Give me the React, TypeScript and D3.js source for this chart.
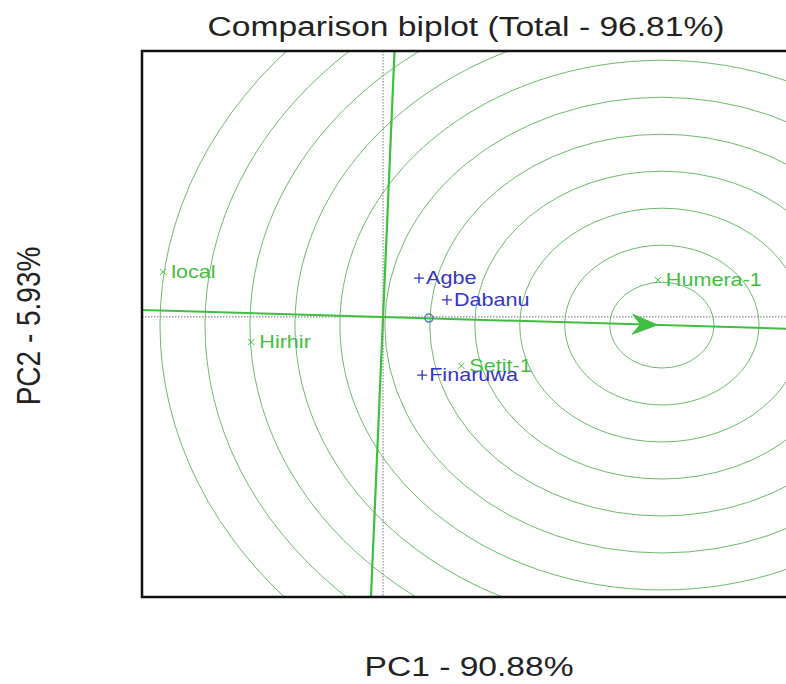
import React from "react";
import * as d3 from "d3";

// genotypes (green x) and environments (blue +), PC1/PC2 scores
const genoNames = ["local", "Hirhir", "Humera-1", "Setit-1"];
const genoPC1 = [-4.89, -2.93, 6.11, 1.74];
const genoPC2 = [1.22, -0.68, 1.0, -1.32];

const envNames = ["Agbe", "Dabanu", "Finaruwa"];
const envPC1 = [0.8, 1.42, 0.87];
const envPC2 = [1.05, 0.46, -1.57];

const avgEnv = [1.02, -0.03];
const idealPoint = [6.2, -0.22];
const arrowTip = [6.1, -0.215];
const ringRadii = [1.16, 2.16, 3.16, 4.16, 5.16, 6.16, 7.16, 8.16, 9.16, 10.16, 11.16];

const title = "Comparison biplot (Total - 96.81%)";
const xLabel = "PC1 - 90.88%";
const yLabel = "PC2 - 5.93%";

const W = 786;
const H = 684;
const plot = { left: 142, right: 786, top: 51, bottom: 597 };
const SX = 1.2; // horizontal stretch of the original picture
const FONT = "'Liberation Sans', Arial, sans-serif";

const App = () => {
  const x = d3.scaleLinear().domain([-5.36, 8.96]).range([plot.left, plot.right]);
  const y = d3.scaleLinear().domain([-7.57, 7.19]).range([plot.bottom, plot.top]);

  const [cx, cy] = idealPoint;
  // AEA line through origin and the ideal point, and its perpendicular
  const slope = cy / cx;
  const aeaX0 = x.domain()[0] - 1;
  const aeaX1 = x.domain()[1] + 1;
  const perpY0 = y.domain()[0] - 1;
  const perpY1 = y.domain()[1] + 1;
  const perpK = -cy / cx; // x = perpK * y

  // arrowhead in pixel space
  const tipX = x(arrowTip[0]);
  const tipY = y(arrowTip[1]);
  const ang = Math.atan2(y(arrowTip[1]) - y(0), x(arrowTip[0]) - x(0));
  const pt = (len: number, off: number) => [
    tipX - len * Math.cos(ang) - off * Math.sin(ang),
    tipY - len * Math.sin(ang) + off * Math.cos(ang),
  ];
  const head = [pt(0, 0), pt(25, -10), pt(17, 0), pt(25, 10)];
  const headPath = d3.line()(head as [number, number][]) + "Z";

  const green = "#3fbf3f";
  const blue = "#3434c8";

  return (
    <svg width={W} height={H} style={{ position: "absolute", left: 0, top: 0, background: "#fff" }}>
      <defs>
        <clipPath id="plotclip">
          <rect x={plot.left} y={plot.top} width={plot.right - plot.left} height={plot.bottom - plot.top} />
        </clipPath>
      </defs>

      <text
        transform={`translate(466,36) scale(${SX},1)`}
        textAnchor="middle"
        fontFamily={FONT}
        fontSize={28}
        fill="#222"
      >
        {title}
      </text>

      <g clipPath="url(#plotclip)">
        {ringRadii.map((r, i) => (
          <ellipse
            key={i}
            cx={x(cx)}
            cy={y(cy)}
            rx={x(cx + r) - x(cx)}
            ry={y(cy) - y(cy + r)}
            fill="none"
            stroke="#4aa84a"
            strokeOpacity={0.8}
            strokeWidth={1}
          />
        ))}

        {/* dotted reference axes */}
        <line x1={plot.left} x2={plot.right} y1={y(0)} y2={y(0)} stroke="#8a8a8a" strokeWidth={1.2} strokeDasharray="1.5,1.5" />
        <line x1={x(0)} x2={x(0)} y1={plot.top} y2={plot.bottom} stroke="#8a8a8a" strokeWidth={1.2} strokeDasharray="1.5,1.5" />

        {/* average environment axis */}
        <line
          x1={x(aeaX0)}
          y1={y(aeaX0 * slope)}
          x2={x(aeaX1)}
          y2={y(aeaX1 * slope)}
          stroke={green}
          strokeWidth={2}
        />
        <line
          x1={x(perpY0 * perpK)}
          y1={y(perpY0)}
          x2={x(perpY1 * perpK)}
          y2={y(perpY1)}
          stroke={green}
          strokeWidth={2.2}
        />
        <path d={headPath} fill={green} stroke={green} strokeWidth={1} />

        <circle cx={x(avgEnv[0])} cy={y(avgEnv[1])} r={4} fill="none" stroke="#4f7fb5" strokeWidth={1.5} />

        {genoNames.map((n, i) => {
          const px = x(genoPC1[i]);
          const py = y(genoPC2[i]);
          return (
            <g key={n}>
              <path d={`M${px - 3},${py - 3}L${px + 3},${py + 3}M${px - 3},${py + 3}L${px + 3},${py - 3}`} stroke={green} strokeWidth={1} />
              <text transform={`translate(${px + 8},${py + 6}) scale(${SX},1)`} fontFamily={FONT} fontSize={18} fill={green}>
                {n}
              </text>
            </g>
          );
        })}

        {envNames.map((n, i) => {
          const px = x(envPC1[i]);
          const py = y(envPC2[i]);
          return (
            <g key={n}>
              <path d={`M${px - 5},${py}L${px + 5},${py}M${px},${py - 5}L${px},${py + 5}`} stroke={blue} strokeWidth={1.3} />
              <text transform={`translate(${px + 7},${py + 6}) scale(${SX},1)`} fontFamily={FONT} fontSize={18} fill={blue}>
                {n}
              </text>
            </g>
          );
        })}
      </g>

      {/* frame: right side runs off the picture */}
      <path
        d={`M${plot.right + 10},${plot.top}H${plot.left}V${plot.bottom}H${plot.right + 10}`}
        fill="none"
        stroke="#111"
        strokeWidth={2.5}
      />

      <text
        transform={`translate(469,676) scale(${SX},1)`}
        textAnchor="middle"
        fontFamily={FONT}
        fontSize={28}
        fill="#222"
      >
        {xLabel}
      </text>
      <text
        transform={`translate(40,326) scale(${SX},1) rotate(-90)`}
        textAnchor="middle"
        fontFamily={FONT}
        fontSize={28}
        fill="#222"
      >
        {yLabel}
      </text>
    </svg>
  );
};

export default App;
